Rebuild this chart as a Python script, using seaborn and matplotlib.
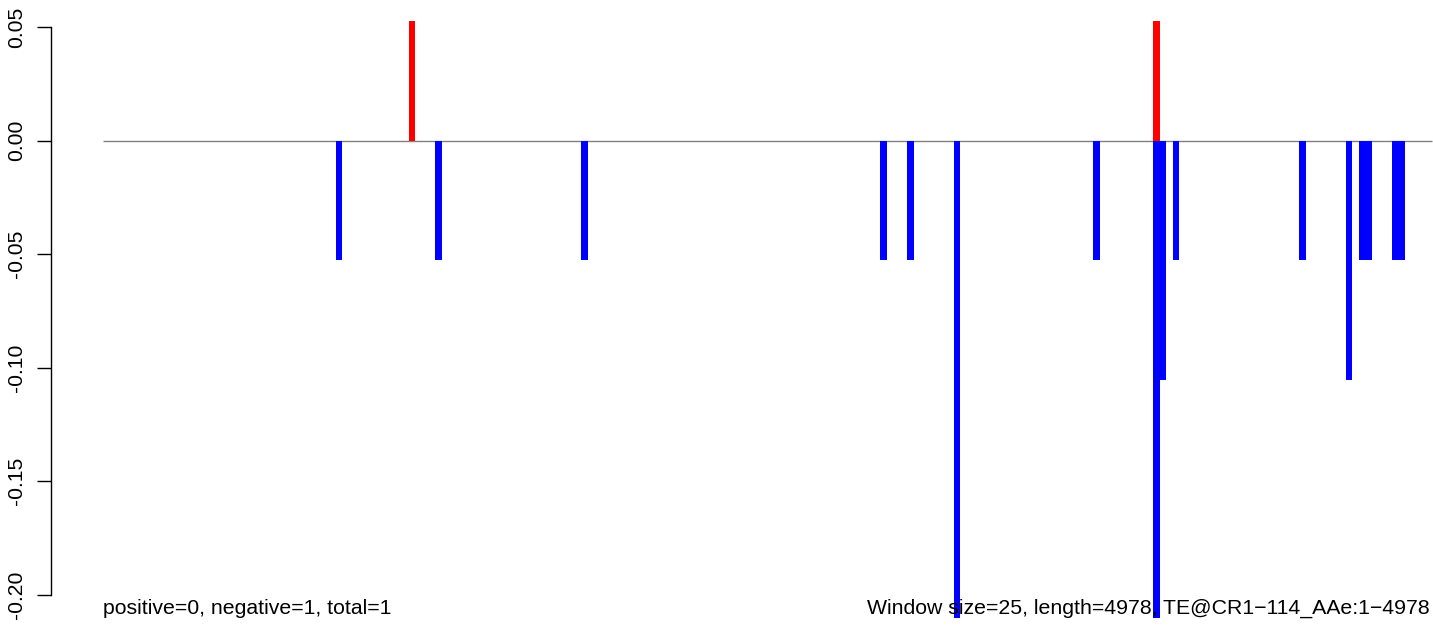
import numpy as np
import pandas as pd
import seaborn as sns
import matplotlib.pyplot as plt

sns.set_style('white')
plt.rcParams['font.family'] = ['Liberation Sans', 'DejaVu Sans']
plt.rcParams['text.color'] = 'black'
plt.rcParams['ytick.color'] = 'black'

n_windows = 200

# windows with a hit, and the score of each
pos_windows = [46, 158]
pos_values = [0.0526, 0.0526]
neg_windows = [35, 50, 72, 117, 121, 128, 149, 158, 159, 161, 180, 187, 189, 190, 194, 195]
neg_values = [-0.0526, -0.0526, -0.0526, -0.0526, -0.0526, -0.2105, -0.0526, -0.2105,
              -0.1053, -0.0526, -0.0526, -0.1053, -0.0526, -0.0526, -0.0526, -0.0526]

yticks = [0.05, 0.00, -0.05, -0.10, -0.15, -0.20]
left_note = 'positive=0, negative=1, total=1'
right_note = 'Window size=25, length=4978, TE@CR1\u2212114_AAe:1\u22124978'

df = pd.DataFrame({'window': np.arange(n_windows), 'positive': 0.0, 'negative': 0.0})
df.loc[pos_windows, 'positive'] = pos_values
df.loc[neg_windows, 'negative'] = neg_values

fig = plt.figure(figsize=(14.33, 6.25), dpi=100)
ax = fig.add_axes([0, 0, 1, 1])
ax.patch.set_alpha(0)

ax.hlines(0, -0.5, n_windows - 0.5, color='#808080', lw=1, zorder=0)
sns.barplot(data=df, x='window', y='negative', color='blue', saturation=1,
            width=1, linewidth=0, errorbar=None, ax=ax)
sns.barplot(data=df, x='window', y='positive', color='red', saturation=1,
            width=1, linewidth=0, errorbar=None, ax=ax)

ax.set_xlim(-16.0, 199.65)
ax.set_ylim(-0.2134, 0.0619)
ax.set_xticks([])
ax.set_xlabel('')
ax.set_ylabel('')

for s in ['top', 'right', 'bottom']:
    ax.spines[s].set_visible(False)
ax.spines['left'].set_position(('data', -8.325))
ax.spines['left'].set_bounds(-0.20, 0.05)
ax.spines['left'].set_color('black')
ax.spines['left'].set_linewidth(1.0)
ax.set_yticks(yticks)
ax.set_yticklabels(['%.2f' % v for v in yticks], rotation=90, va='center',
                   fontsize=15.2, color='black')
ax.tick_params(axis='y', direction='out', length=10, width=1.0, color='black',
               pad=8, left=True)

fig.text(103 / 1433, 1 - 608 / 625, left_note, fontsize=15.3, ha='left', va='center',
         color='black')
fig.text(1430 / 1433, 1 - 608 / 625, right_note, fontsize=15.3, ha='right', va='center',
         color='black')

fig.savefig('out.png', dpi=100)
